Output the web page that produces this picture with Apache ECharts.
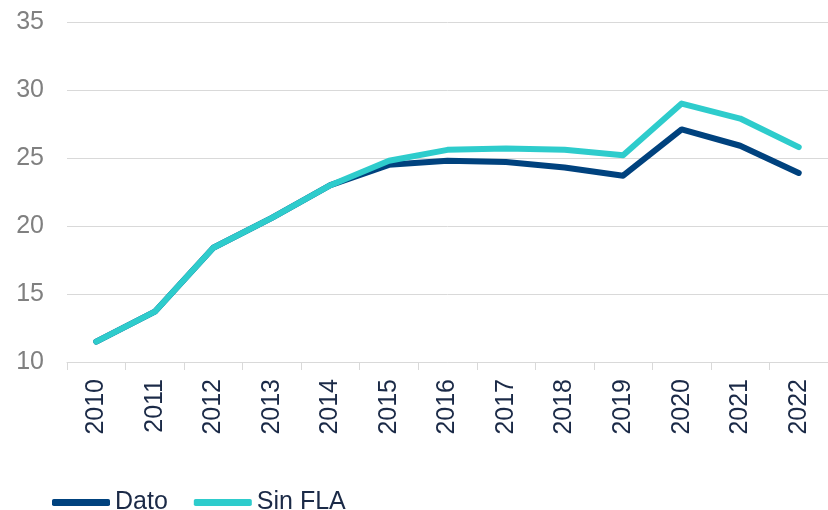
<!DOCTYPE html>
<html>
<head>
<meta charset="utf-8">
<script src="https://cdn.jsdelivr.net/npm/echarts@6/dist/echarts.min.js"></script>
<style>
  html, body { margin: 0; padding: 0; background: #fff; }
  #chart { width: 828px; height: 510px; }
</style>
</head>
<body>
<div id="chart"></div>
<script>
const years = ['2010', '2011', '2012', '2013', '2014', '2015', '2016', '2017', '2018', '2019', '2020', '2021', '2022']
const dato = [11.5, 13.7, 18.4, 20.6, 23.0, 24.5, 24.8, 24.7, 24.3, 23.7, 27.1, 25.9, 23.9]
const sinFla = [11.5, 13.7, 18.4, 20.6, 23.0, 24.8, 25.6, 25.7, 25.6, 25.2, 29.0, 27.9, 25.8]
const yTicks = { min: 10, max: 35, interval: 5 }

const chart = echarts.init(document.getElementById('chart'), null, { renderer: 'canvas' })

const font = 'Liberation Sans, Arial, sans-serif'
const gridColor = '#d9d9d9'

chart.setOption({
  animation: false,
  grid: { left: 67, top: 22, width: 768, bottom: 148, containLabel: false },
  legend: {
    left: 47,
    top: 485,
    itemWidth: 58,
    itemHeight: 7,
    itemGap: 26,
    icon: 'roundRect',
    textStyle: { color: '#1b2a47', fontSize: 25, fontFamily: font },
    data: ['Dato', 'Sin FLA'],
  },
  xAxis: {
    type: 'category',
    data: years,
    boundaryGap: true,
    axisLine: { lineStyle: { color: gridColor, width: 1 } },
    axisTick: { show: true, interval: 0, length: 8, lineStyle: { color: gridColor } },
    axisLabel: {
      interval: 0,
      rotate: 90,
      margin: 17,
      color: '#1b2a47',
      fontSize: 25,
      fontFamily: font,
    },
  },
  yAxis: {
    type: 'value',
    min: yTicks.min,
    max: yTicks.max,
    interval: yTicks.interval,
    axisLine: { show: false },
    axisTick: { show: false },
    splitLine: { lineStyle: { color: gridColor, width: 1 } },
    axisLabel: { color: '#808080', fontSize: 25, fontFamily: font, margin: 23 },
  },
  series: [
    {
      name: 'Dato',
      type: 'line',
      data: dato,
      showSymbol: false,
      symbol: 'none',
      itemStyle: { color: '#00427e' },
      lineStyle: { color: '#00427e', width: 6, cap: 'round', join: 'round' },
    },
    {
      name: 'Sin FLA',
      type: 'line',
      data: sinFla,
      showSymbol: false,
      symbol: 'none',
      itemStyle: { color: '#2ecccc' },
      lineStyle: { color: '#2ecccc', width: 6, cap: 'round', join: 'round' },
    },
  ],
})

window.addEventListener('resize', () => chart.resize())
</script>
</body>
</html>
